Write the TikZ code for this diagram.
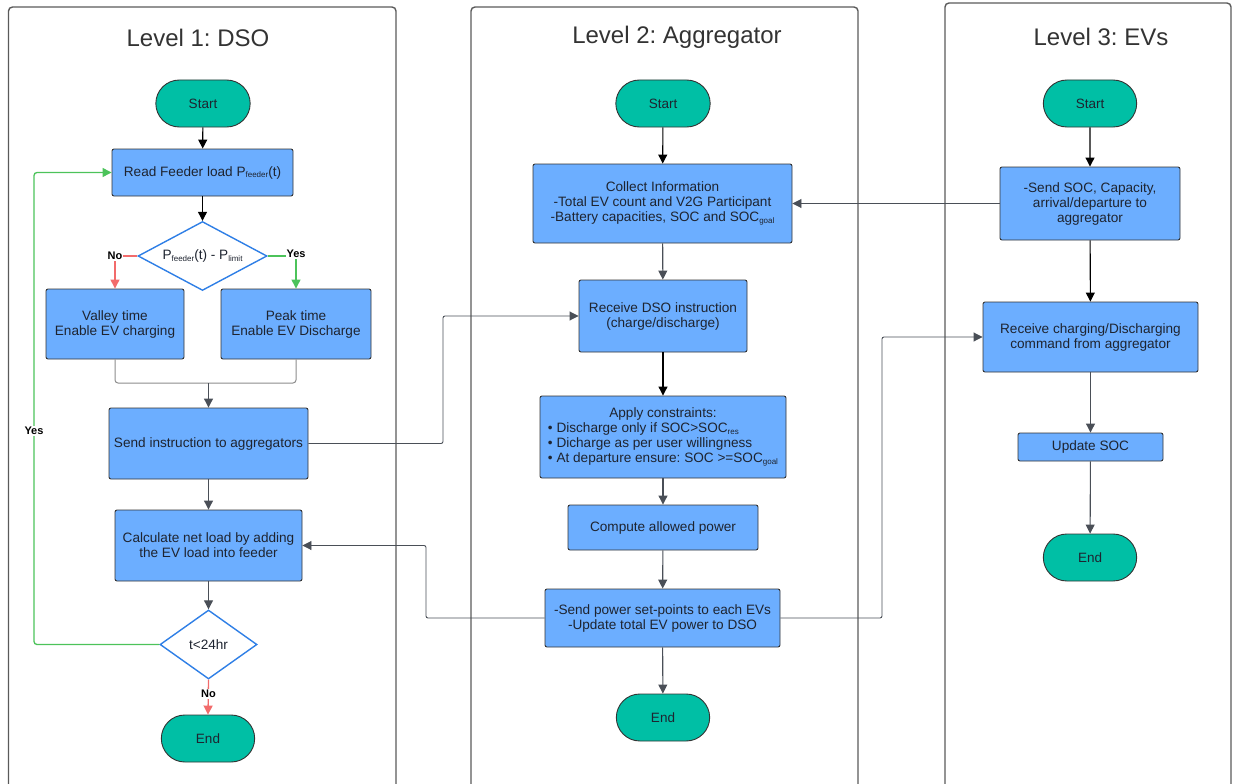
\documentclass[tikz,border=0pt]{standalone}
\usepackage{fontspec}
\setmainfont{Liberation Sans}
\usetikzlibrary{arrows.meta,shapes.geometric,shapes.misc}
\definecolor{boxblue}{HTML}{6CAEFF}
\definecolor{termteal}{HTML}{00BFA5}
\definecolor{decblue}{HTML}{2F7FE6}
\definecolor{noRed}{HTML}{F26B6B}
\definecolor{yesGreen}{HTML}{4CC35A}
\definecolor{lineGray}{HTML}{6E7177}
\definecolor{headGray}{HTML}{4A4F57}
\definecolor{frameGray}{HTML}{5A5A5A}
\definecolor{txt}{HTML}{1E2430}
\newcommand{\smallsub}[1]{\raisebox{-0.25ex}{\fontsize{8}{9}\selectfont #1}}
\begin{document}
\frenchspacing
\begin{tikzpicture}[x=1pt,y=-1pt,
  proc/.style={draw=black!80, fill=boxblue, rounded corners=2pt, align=center,
    font=\fontsize{13.6}{15}\selectfont, text=txt, inner sep=2pt, line width=0.9pt},
  term/.style={rounded rectangle, draw=black!80, fill=termteal, minimum width=101pt,
    minimum height=47pt, font=\fontsize{13.5}{15}\selectfont, text=txt, line width=0.9pt},
  dec/.style={diamond, draw=decblue, fill=white, line width=1.4pt, inner sep=0pt,
    font=\fontsize{13.6}{15}\selectfont, text=txt},
  arr/.style={-{Triangle[length=9pt,width=9pt]}, line width=1.1pt, draw=lineGray, color=headGray},
  blk/.style={-{Triangle[length=9pt,width=9pt]}, line width=1.1pt, draw=black},
  lane/.style={draw=frameGray, line width=1.4pt, rounded corners=4pt},
  title/.style={font=\fontsize{24}{28}\selectfont, text=black!80},
  lbl/.style={font=\bfseries\fontsize{11}{13}\selectfont, fill=white, inner sep=1pt, text=black}
]
\useasboundingbox (0,0) rectangle (1237,784);

% lanes
\draw[lane] (8.5,800) -- (8.5,7) -- (396,7) -- (396,800);
\draw[lane] (471,800) -- (471,7) -- (858,7) -- (858,800);
\draw[lane] (945,800) -- (945,3) -- (1231,3) -- (1231,800);

\node[title] (t1) at (198,38) {Level 1: DSO};
\node[title] (t2) at (677,37) {Level 2: Aggregator};
\node[title] (t3) at (1101,37) {Level 3: EVs};

% Lane 1
\node[term] (start1) at (203,103.5) {Start};
\node[proc, minimum width=181pt, minimum height=47pt] (read) at (202.5,172.5) {Read Feeder load P\smallsub{feeder}(t)};
\node[dec, aspect=2.2, minimum width=129pt, minimum height=69pt] (d1) at (202.5,256) {P\smallsub{feeder}(t) - P\smallsub{limit}};
\node[proc, minimum width=138pt, minimum height=70pt] (valley) at (115,324) {Valley time\\Enable EV charging};
\node[proc, minimum width=150pt, minimum height=70pt] (peak) at (296,324) {Peak time\\Enable EV Discharge};
\node[proc, minimum width=199pt, minimum height=71pt] (send) at (208.5,443.5) {Send instruction to aggregators};
\node[proc, minimum width=187pt, minimum height=71pt] (calc) at (208.5,545.5) {Calculate net load by adding\\the EV load into feeder};
\node[dec, aspect=1.4, minimum width=97pt, minimum height=69pt] (d2) at (208.5,644.5) {t<24hr};
\node[term, minimum width=100pt] (end1) at (208,738.5) {End};

\coordinate (nocorner) at (115,256);
\coordinate (yescorner) at (296,256);
\coordinate (merge) at (208.5,383);
\coordinate (loopA) at (34,644.5);
\coordinate (loopB) at (34,172.5);

\draw[blk] (start1) -- (read);
\draw[blk] (read) -- (d1);
\draw[line width=1.3pt, draw=noRed, -{Triangle[length=9pt,width=9pt]}, color=noRed] (d1.west) -- (nocorner) -- (valley.north);
\node[lbl] (nolbl) at (nocorner) {No};
\draw[line width=1.3pt, draw=yesGreen, -{Triangle[length=9pt,width=9pt]}, color=yesGreen] (d1.east) -- (yescorner) -- (peak.north);
\node[lbl] (yeslbl) at ([yshift=2pt]yescorner) {Yes};
\draw[line width=1pt, draw=black!45, rounded corners=3pt] (valley.south) |- (merge);
\draw[line width=1pt, draw=black!45, rounded corners=3pt] (peak.south) |- (merge);
\draw[arr] (merge) -- (send.north);
\draw[arr] (send) -- (calc);
\draw[arr] (calc) -- (d2);
\draw[line width=1.3pt, -{Triangle[length=9pt,width=9pt]}, color=noRed] (d2.south) -- (end1.north);
\node[lbl] (nolbl2) at (208.5,694) {No};
\draw[line width=1.3pt, -{Triangle[length=9pt,width=9pt]}, color=yesGreen, rounded corners=3pt] (d2.west) -- (loopA) -- (loopB) -- (read.west);
\node[lbl] (yeslbl2) at (34,431) {Yes};

% Lane 2
\node[term] (start2) at (663,103.5) {Start};
\node[proc, minimum width=259pt, minimum height=79pt] (collect) at (662.5,203.5) {Collect Information\\-Total EV count and V2G Participant\\-Battery capacities, SOC and SOC\smallsub{goal}};
\node[proc, minimum width=168pt, minimum height=72pt] (recv) at (663,316) {Receive DSO instruction\\(charge/discharge)};
\node[proc, minimum width=246pt, minimum height=82pt] (apply) at (663,437) {\begin{tabular}{@{}l@{}}\multicolumn{1}{@{}c@{}}{Apply constraints:}\\ \textbullet{} Discharge only if SOC>SOC\smallsub{res}\\ \textbullet{} Dicharge as per user willingness\\ \textbullet{} At departure ensure: SOC >=SOC\smallsub{goal}\end{tabular}};
\node[proc, minimum width=190pt, minimum height=45pt] (compute) at (663,527.5) {Compute allowed power};
\node[proc, minimum width=235pt, minimum height=58pt] (sendp) at (662.5,618) {-Send power set-points to each EVs\\-Update total EV power to DSO};
\node[term, minimum width=100pt] (end2) at (663,717.5) {End};

\draw[blk] (start2) -- (collect);
\draw[arr] (collect) -- (recv);
\draw[blk] (recv) -- (apply);
\draw[arr] (apply) -- (compute);
\draw[arr] (compute) -- (sendp);
\draw[arr] (sendp) -- (end2);

% Lane 3
\node[term, minimum width=100pt] (start3) at (1090,103.5) {Start};
\node[proc, minimum width=180pt, minimum height=73pt] (sendsoc) at (1090,203.5) {-Send SOC, Capacity,\\arrival/departure to\\aggregator};
\node[proc, minimum width=215pt, minimum height=70pt] (recvc) at (1090.5,337) {Receive charging/Discharging\\command from aggregator};
\node[proc, minimum width=145pt, minimum height=28pt] (upd) at (1090.5,447) {Update SOC};
\node[term, minimum width=100pt] (end3) at (1090,557.5) {End};

\draw[blk] (start3) -- (sendsoc);
\draw[blk] (sendsoc) -- (recvc);
\draw[arr] (recvc) -- (upd);
\draw[arr] (upd) -- (end3);

% cross-lane connectors
\coordinate (c1) at (443,443.5);
\coordinate (c2) at (443,316);
\coordinate (c3) at (426,618);
\coordinate (c4) at (426,545.5);
\coordinate (c5) at (882,618);
\coordinate (c6) at (882,337);
\draw[arr, line width=0.9pt] (sendsoc.west) -- (sendsoc.west -| collect.east);
\draw[arr, line width=0.9pt, rounded corners=2pt] (send.east) -- (c1) -- (c2) -- (recv.west);
\draw[arr, line width=0.9pt, rounded corners=2pt] (sendp.west) -- (c3) -- (c4) -- (calc.east);
\draw[arr, line width=0.9pt, rounded corners=2pt] (sendp.east) -- (c5) -- (c6) -- (recvc.west);
\end{tikzpicture}
\end{document}
